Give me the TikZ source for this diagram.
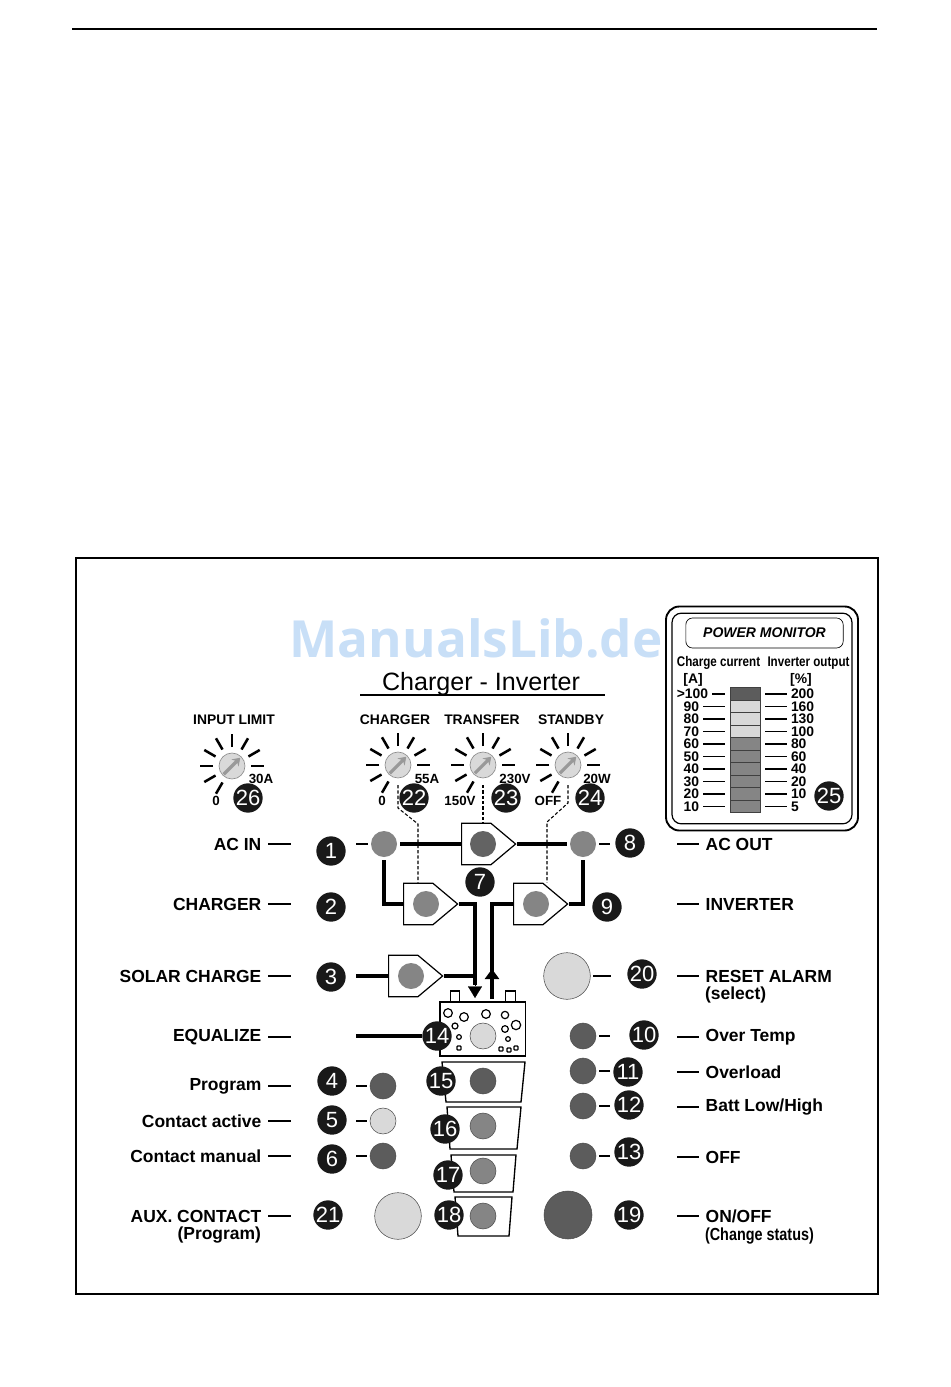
\documentclass[tikz,border=0pt]{standalone}
\usepackage{fontspec}
\usepackage{graphicx}
\setmainfont{Liberation Sans}
\newfontfamily\wmfont{Open Sans}
\usetikzlibrary{calc, positioning, arrows.meta, shapes.geometric, shapes.symbols}
\definecolor{leddark}{gray}{0.36}
\definecolor{ledmid}{gray}{0.52}
\definecolor{ledlight}{gray}{0.85}
\definecolor{wmblue}{RGB}{200,223,247}

\begin{document}
\begin{tikzpicture}[
    x=0.75pt, y=-0.75pt,
    badge/.style={circle, fill=black!90, text=white, inner sep=0pt, minimum size=22pt, font=\fontsize{16.5}{17}\selectfont},
    led/.style={circle, draw=black!70, line width=0.4pt, inner sep=0pt, minimum size=19.5pt, outer sep=2.25pt},
    bigled/.style={led, minimum size=35pt},
    dial/.style={circle, draw=black!45, line width=0.5pt, fill=ledlight, inner sep=0pt, minimum size=19.5pt, outer sep=0pt},
    ray/.style={line width=1.9pt},
    needle/.style={-{Stealth[length=5.5pt,width=7.5pt]}, line width=2.4pt, draw=black!40, shorten >=1pt, shorten <=1pt},
    lab/.style={inner sep=0pt, outer sep=5pt, yshift=-0.3pt, font=\bfseries\fontsize{13.1}{15}\selectfont},
    hdr/.style={inner sep=0pt, yshift=-0.75pt, font=\bfseries\fontsize{10.4}{12}\selectfont},
    val/.style={inner sep=0pt, yshift=-0.75pt, font=\bfseries\fontsize{10}{12}\selectfont},
    num/.style={inner sep=0pt, outer sep=3pt, yshift=-0.75pt, font=\bfseries\fontsize{10.4}{12}\selectfont},
    pent/.style={signal, signal to=east, signal from=nowhere, signal pointer angle=80, draw, line width=0.9pt, fill=white, inner sep=0pt, minimum width=40.5pt, minimum height=31pt, anchor=west},
    trap/.style={draw, line width=1pt, fill=white},
    wire/.style={line width=2.8pt},
    stub/.style={line width=2.2pt},
    lnk/.style={dashed, dash pattern=on 2.5pt off 1.5pt, line width=0.8pt},
    seg/.style={rectangle, draw=black!75, line width=0.5pt, inner sep=0pt, minimum width=22.5pt, minimum height=9.35pt},
    hole/.style={circle, draw, line width=0.9pt, inner sep=0pt}
]
\useasboundingbox (0,0) rectangle (950,1387);

\coordinate (ruleL) at (72,29);
\coordinate (ruleR) at (877,29);
\draw[line width=1.9pt] (ruleL) -- (ruleR);
\node[draw, line width=0.8pt, minimum width=601.5pt, minimum height=552pt, inner sep=0pt] (frame) at (477,926) {};
\node[text=wmblue, inner sep=0pt, font=\wmfont\bfseries\fontsize{38.4}{38}\selectfont] (wmark) at (476,638) {ManualsLib.de};

% title
\node[inner sep=0pt, font=\fontsize{18.8}{20}\selectfont] (title) at (481,684) {Charger - Inverter};
\coordinate (titleL) at (360,695);
\coordinate (titleR) at (605,695);
\draw[line width=0.8pt] (titleL) -- (titleR);

% power monitor
\node[draw, rounded corners=10pt, line width=1.4pt, minimum width=144pt, minimum height=168pt, inner sep=0pt] (pmouter) at (762,718.5) {};
\node[draw, rounded corners=7pt, line width=0.9pt, minimum width=135pt, minimum height=158pt, inner sep=0pt] (pminner) at (762,718.5) {};
\node[draw, rounded corners=5pt, line width=0.5pt, minimum width=118pt, minimum height=22.5pt, inner sep=0pt, font=\bfseries\itshape\fontsize{10.5}{12}\selectfont] (pmtitle) at (764.5,633) {POWER MONITOR};
\node[hdr] (chgcur) at (718.5,662) {\scalebox{0.83}[1]{\fontsize{10.5}{12}\selectfont Charge current}};
\node[hdr] (invout) at (808.5,662) {\scalebox{0.83}[1]{\fontsize{10.5}{12}\selectfont Inverter output}};
\node[hdr] (unitA) at (693,678.5) {[A]};
\node[hdr] (unitP) at (801,678.5) {[\%]};
\foreach \i/\io/\yy/\col in {1/200/694/leddark, 2/160/706.5/ledlight, 3/130/719/ledlight, 4/100/731.5/ledlight, 5/80/744/ledmid, 6/60/756.5/ledmid, 7/40/769/ledmid, 8/20/781.5/ledmid, 9/10/794/ledmid, 10/5/806.5/ledmid} {
    \node[seg, fill=\col] (seg\i) at (745,\yy) {};
    \node[num, anchor=mid west] (out\i) at (787,\yy) {\io};
    \draw[line width=1.1pt, shorten <=3.75pt] (seg\i.east) -- (seg\i.east -| out\i.west);
}
\foreach \i/\ca/\xx/\yy in {1/{>100}/712/694, 2/90/703/706.5, 3/80/703/719, 4/70/703/731.5, 5/60/703/744, 6/50/703/756.5, 7/40/703/769, 8/30/703/781.5, 9/20/703/794, 10/10/703/806.5} {
    \node[num, anchor=mid east] (chg\i) at (\xx,\yy) {\ca};
    \draw[line width=1.1pt, shorten >=3.75pt] (seg\i.west -| chg\i.east) -- (seg\i.west);
}
\node[badge] (b25) at (829,796) {25};

% dials
\foreach \name/\xx/\yy in {limit/232/766, charger/398/765, transfer/483/765, standby/568/765} {
    \node[dial] (d\name) at (\xx,\yy) {};
    \foreach \ang in {0,30,...,240}
        \draw[ray] (d\name.\ang) ++(\ang:4.5pt) -- ++(\ang:9.75pt);
    \draw[needle] (d\name.225) -- (d\name.45);
}
\node[hdr] (hlimit) at (234,719) {INPUT LIMIT};
\node[hdr] (hcharger) at (395,719) {CHARGER};
\node[hdr] (htransfer) at (482,719) {TRANSFER};
\node[hdr] (hstandby) at (571,719) {STANDBY};
\node[val] (v30a) at (261,778) {30A};
\node[val] (v0a) at (216,800) {0};
\node[val] (v55a) at (427,778) {55A};
\node[val] (v0b) at (382,800) {0};
\node[val] (v230) at (515,778) {230V};
\node[val] (v150) at (460,800) {150V};
\node[val] (v20w) at (597,778) {20W};
\node[val] (voff) at (548,800) {OFF};
\node[badge] (b26) at (248,798) {26};
\node[badge] (b22) at (414,798) {22};
\node[badge] (b23) at (506,798) {23};
\node[badge] (b24) at (590,798) {24};

% pentagons
\node[pent] (ptransfer) at (461,844) {};
\node[pent] (pcharger) at (403,904) {};
\node[pent] (pinverter) at (513,904) {};
\node[pent] (psolar) at (388,976) {};

% leds on the top rows
\node[led, fill=ledmid, draw=none] (lacin) at (384,844) {};
\node[led, fill=ledmid, draw=none] (lacout) at (583,844) {};
\node[led, fill=ledmid!75!black, draw=none] (ltransfer) at (483,844) {};
\node[led, fill=ledmid, draw=none] (lcharger) at (426,904) {};
\node[led, fill=ledmid, draw=none] (linverter) at (536,904) {};
\node[led, fill=ledmid, draw=none] (lsolar) at (411,976) {};

% wires
\draw[wire] (lacin) -- (ptransfer.west);
\draw[wire] (ptransfer.east) -- (lacout);
\draw[wire] (lacin) |- (pcharger.west);
\draw[wire] (lacout) |- (pinverter.east);
\coordinate (dnend) at (475,998);
\coordinate (dntail) at (475,985);
\coordinate (upend) at (492,999);
\coordinate (uptip) at (492,969);
\draw[wire] (pcharger.east) -| (dntail);
\draw[wire] (psolar.east) -- (psolar.east -| dntail);
\draw[wire] (pinverter.west) -| (upend);
\draw[-{Triangle[length=8.7pt,width=10.5pt]}, line width=0.2pt] (dntail) -- (dnend);
\draw[wire, -{Triangle[length=7.5pt,width=10.5pt]}] (upend) -- (uptip);

% dashed links
\coordinate (kcharger) at (418,824);
\coordinate (kcharger2) at (398,808);
\coordinate (kstandby) at (547,822);
\coordinate (kstandby2) at (568,803);
\coordinate (dchargerS) at (398,785);
\coordinate (dstandbyS) at (568,785);
\coordinate (dtransferS) at (483,785);
\draw[lnk] (dchargerS) -- (kcharger2) -- (kcharger) -- (kcharger |- pcharger.north);
\draw[lnk] (dtransferS) -- (dtransferS |- ptransfer.north);
\draw[lnk] (dstandbyS) -- (kstandby2) -- (kstandby) -- (kstandby |- pinverter.north);

% battery
\node[draw, line width=0.9pt, fill=white, minimum width=7pt, minimum height=9pt, inner sep=0pt] (termL) at (455,997) {};
\node[draw, line width=0.9pt, fill=white, minimum width=7pt, minimum height=9pt, inner sep=0pt] (termR) at (510.5,997) {};
\node[draw, line width=1pt, fill=white, minimum width=64pt, minimum height=40.5pt, inner sep=0pt] (batt) at (482.5,1029) {};
\foreach \xx/\yy/\dd in {448/1013/6.5, 464/1017/6.5, 486/1014/6.5, 505/1015/5.5, 516/1025/7, 505/1029/5, 455/1026/4.5, 459/1037/3.5, 508/1039/3.5}
    \node[hole, minimum size=\dd pt] (h\xx) at (\xx,\yy) {};
\foreach \xx/\yy in {459/1048, 501/1049, 509/1050, 516/1048}
    \node[draw, line width=0.9pt, rounded corners=0.5pt, inner sep=0pt, minimum size=3pt] (q\xx) at (\xx,\yy) {};
\node[led, fill=ledlight] (lequal) at (483,1036) {};

% trapeziums
\draw[trap] (442,1062) -- (525,1062) -- (521,1102) -- (446,1102) -- cycle;
\draw[trap] (447,1107) -- (521,1107) -- (517,1149) -- (450,1149) -- cycle;
\draw[trap] (451,1155) -- (516,1155) -- (513,1192) -- (454,1192) -- cycle;
\draw[trap] (455,1197) -- (512,1197) -- (509,1236) -- (458,1236) -- cycle;
\node[led, fill=leddark] (l15) at (483,1081) {};
\node[led, fill=ledmid] (l16) at (483,1126) {};
\node[led, fill=ledmid] (l17) at (483,1171) {};
\node[led, fill=ledmid] (l18) at (483,1216) {};

% remaining leds
\node[led, fill=leddark] (lprog) at (383,1086) {};
\node[led, fill=ledlight] (lcontact) at (383,1121) {};
\node[led, fill=leddark] (lmanual) at (383,1156) {};
\node[led, fill=leddark] (ltemp) at (583,1036) {};
\node[led, fill=leddark] (lload) at (583,1071) {};
\node[led, fill=leddark] (lbatt) at (583,1106) {};
\node[led, fill=leddark] (loff) at (583,1156) {};
\node[bigled, fill=ledlight] (baux) at (398,1216) {};
\node[bigled, fill=ledlight] (breset) at (567,976) {};
\node[bigled, fill=leddark, minimum size=36pt] (bonoff) at (568,1215) {};

% short dashes beside the leds
\foreach \from/\xx in {lacin/356, lprog/356, lcontact/356, lmanual/356} {
    \coordinate (c\from) at (\xx,0 |- \from);
    \draw[stub] (c\from) -- (\from);
}
\foreach \from/\xx in {lacout/610, ltemp/610, lload/610, lbatt/610, loff/610, breset/611} {
    \coordinate (c\from) at (\xx,0 |- \from);
    \draw[stub] (\from) -- (c\from);
}
\coordinate (csolar) at (356,976);
\coordinate (cequal) at (356,1036);

% numbered badges
\node[badge] (b1) at (331,851) {1};
\node[badge] (b2) at (331,907) {2};
\node[badge] (b3) at (331,977) {3};
\node[badge] (b4) at (332,1081) {4};
\node[badge] (b5) at (332,1120) {5};
\node[badge] (b6) at (332,1159) {6};
\node[badge] (b7) at (480,882) {7};
\node[badge] (b8) at (630,843) {8};
\node[badge] (b9) at (607,907) {9};
\node[badge] (b10) at (644,1035) {10};
\node[badge] (b11) at (628,1072) {11};
\node[badge] (b12) at (629,1105) {12};
\node[badge] (b13) at (629,1152) {13};
\node[badge] (b14) at (437,1036) {14};
\node[badge] (b15) at (441,1081) {15};
\node[badge] (b16) at (445,1129) {16};
\node[badge] (b17) at (448,1175) {17};
\node[badge] (b18) at (449,1215) {18};
\node[badge] (b19) at (629,1215) {19};
\node[badge] (b20) at (642,974) {20};
\node[badge] (b21) at (328,1215) {21};
\draw[wire] (csolar) -- (psolar.west);
\draw[wire] (cequal) -- (b14);

% side labels
\foreach \name/\txt/\yy in {acin/AC IN/844, chg/CHARGER/904, sol/SOLAR CHARGE/976, equ/EQUALIZE/1037, prg/Program/1086, act/Contact active/1121, man/Contact manual/1156, aux/AUX. CONTACT/1216} {
    \node[lab, anchor=east] (n\name) at (268,\yy) {\txt};
    \coordinate (s\name) at (291,\yy);
    \draw[stub] (s\name -| n\name.east) -- (s\name);
}
\foreach \name/\txt/\yy in {acout/AC OUT/844, inv/INVERTER/904, rst/RESET ALARM/976, tmp/Over Temp/1037, ovl/Overload/1072, bat/Batt Low\slash High/1107, off/OFF/1157, onf/ON\slash OFF/1216} {
    \node[lab, anchor=west] (n\name) at (699,\yy) {\txt};
    \coordinate (s\name) at (677,\yy);
    \draw[stub] (s\name) -- (s\name -| n\name.west);
}
\node[lab, outer sep=0pt, anchor=east] (nauxb) at (261,1235) {(Program)};
\node[lab, outer sep=0pt, anchor=west] (nrstb) at (705,995) {(select)};
\node[lab, outer sep=0pt, anchor=west] (nonfb) at (705,1236) {\scalebox{0.825}[1]{(Change status)}};
\end{tikzpicture}
\end{document}
